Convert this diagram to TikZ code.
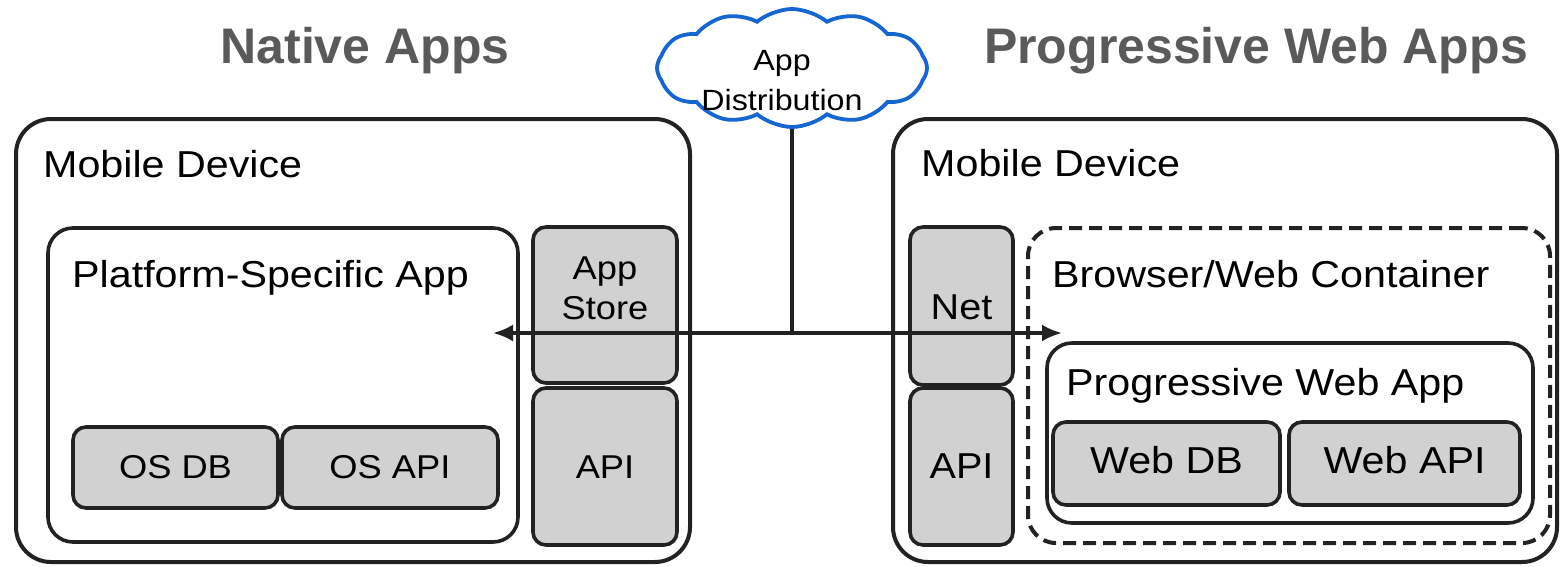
\documentclass[tikz,border=0pt]{standalone}
\usepackage{fontspec}
\setmainfont{Liberation Sans}[FakeStretch=1.1]
\newfontfamily\titlefont{Liberation Sans}
\usetikzlibrary{arrows.meta,shapes.symbols}
\definecolor{strokec}{RGB}{34,34,34}
\definecolor{grayfill}{RGB}{209,209,209}
\definecolor{titlegray}{RGB}{90,90,90}
\definecolor{cloudblue}{RGB}{22,102,210}
\tikzset{
  outerbox/.style={draw=strokec, line width=4pt, rounded corners=35pt, inner sep=0pt},
  innerbox/.style={draw=strokec, line width=3.6pt, rounded corners=25pt, inner sep=0pt},
  dashbox/.style={draw=strokec, line width=4pt, rounded corners=28pt, inner sep=0pt, dash pattern=on 13pt off 7pt},
  graybox/.style={draw=strokec, fill=grayfill, line width=3.6pt, rounded corners=13pt, inner sep=0pt},
  lbl/.style={inner sep=0pt, anchor=base west, text=black},
  boxtxt/.style={inner sep=0pt, anchor=base, text=black},
  big/.style={font=\fontsize{37.5pt}{45pt}\selectfont},
  mid/.style={font=\fontsize{36pt}{43pt}\selectfont},
  small/.style={font=\fontsize{33pt}{40pt}\selectfont},
  title/.style={inner sep=0pt, anchor=base, text=titlegray, font=\titlefont\bfseries\fontsize{50pt}{60pt}\selectfont},
  conn/.style={draw=strokec, line width=3.4pt},
}
\begin{document}
\begin{tikzpicture}[x=1pt,y=-1pt]
\useasboundingbox (0,0) rectangle (1560,566);
\fill[white] (0,0) rectangle (1560,566);

% titles
\node[title] (tNative) at (365,63) {Native Apps};
\node[title] (tPWA) at (1256,63) {Progressive Web Apps};

% left device
\node[outerbox, minimum width=674pt, minimum height=443pt] (devL) at (353,340.5) {};
\node[lbl, big] (devLlbl) at (43,177) {Mobile Device};
\node[innerbox, minimum width=470pt, minimum height=314pt] (psapp) at (283,385) {};
\node[lbl, big] (psapplbl) at (72,287) {Platform-Specific App};
\node[graybox, minimum width=205pt, minimum height=81pt] (osdb) at (175.5,467.5) {};
\node[boxtxt, small] at (175.5,478) {OS DB};
\node[graybox, minimum width=216pt, minimum height=81pt] (osapi) at (390,467.5) {};
\node[boxtxt, small] at (390,478) {OS API};
\node[graybox, minimum width=144pt, minimum height=156pt] (appstore) at (605,305) {};
\node[inner sep=0pt, small, align=center, text=black] (appstorelbl) at (605,288) {App\\Store};
\node[graybox, minimum width=144pt, minimum height=157pt] (apiL) at (605,466.5) {};
\node[boxtxt, small] at (605,478) {API};

% right device
\node[outerbox, minimum width=664pt, minimum height=443pt] (devR) at (1225,340.5) {};
\node[lbl, big] (devRlbl) at (921,176) {Mobile Device};
\node[graybox, minimum width=103pt, minimum height=158pt] (net) at (961.5,306) {};
\node[boxtxt, mid] at (961.5,319) {Net};
\node[graybox, minimum width=103pt, minimum height=157pt] (apiR) at (961.5,466.5) {};
\node[boxtxt, mid] at (961.5,478) {API};
\node[dashbox, minimum width=522pt, minimum height=315pt] (browser) at (1289,385.5) {};
\node[lbl, big] (browserlbl) at (1052,287) {Browser/Web Container};
\node[innerbox, minimum width=486pt, minimum height=180pt] (pwa) at (1290,433) {};
\node[lbl, big] (pwalbl) at (1066,395) {Progressive Web App};
\node[graybox, minimum width=227pt, minimum height=83pt] (webdb) at (1166.5,463.5) {};
\node[boxtxt, big] at (1166.5,473) {Web DB};
\node[graybox, minimum width=231pt, minimum height=83pt] (webapi) at (1404.5,463.5) {};
\node[boxtxt, big] at (1404.5,473) {Web API};

% cloud
\node[cloud, cloud puffs=12, cloud puff arc=80, aspect=2.2, draw=cloudblue, line width=3.8pt, fill=white,
      minimum width=270pt, minimum height=118pt, inner sep=0pt] (cloud) at (792,68) {};
\node[inner sep=0pt, align=center, text=black, font=\fontsize{29.3pt}{40pt}\selectfont] (cloudlbl) at (782,81) {App\\Distribution};

% connectors
\coordinate (junc) at (792,333);
\coordinate (arrL) at (493,333);
\coordinate (arrR) at (1062,333);
\draw[conn] (cloud) -- (junc);
\draw[conn, {Latex[length=20pt,width=17pt]}-{Latex[length=20pt,width=17pt]}] (arrL) -- (arrR);
\end{tikzpicture}
\end{document}
